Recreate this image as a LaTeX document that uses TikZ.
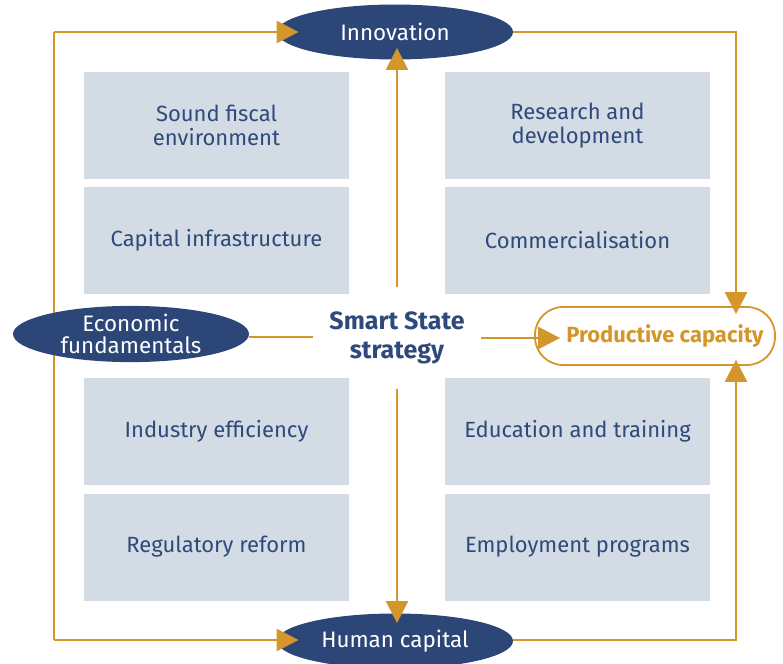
\documentclass[tikz,border=0pt]{standalone}
\usepackage{fontspec}
\setmainfont{Fira Sans}
\usepackage{tikz}
\usetikzlibrary{arrows.meta,positioning,calc,shapes.geometric}
\definecolor{navy}{HTML}{2C4677}
\definecolor{gold}{HTML}{D4952A}
\definecolor{panel}{HTML}{D3DBE4}
\definecolor{ink}{HTML}{2E4A7A}
\tikzset{
  panelbox/.style={fill=panel, minimum width=132.5pt, minimum height=53.5pt, inner sep=2pt,
    align=center, text=ink, font=\fontsize{11}{12}\selectfont},
  driver/.style={ellipse, fill=navy, text=white, inner sep=0pt, minimum width=118pt,
    minimum height=27.5pt, align=center, font=\fontsize{11.2}{11}\selectfont},
  goal/.style={draw=gold, line width=0.9pt, rounded corners=14pt, minimum width=120pt,
    minimum height=29pt, text=gold, font=\bfseries\fontsize{11}{12}\selectfont},
  link/.style={draw=gold, line width=1.3pt},
  flow/.style={link, -{Triangle[length=11pt, width=11pt]}},
}
\begin{document}
\begin{tikzpicture}[x=0.5pt,y=-0.5pt]
  \useasboundingbox (0,0) rectangle (783,664);
  % panels
  \node[panelbox] (fiscal) at (216.5,125.5) {Sound fiscal\\environment};
  \node[panelbox] (infra)  at (216.5,240.5) {Capital infrastructure};
  \node[panelbox] (effic)  at (216.5,431.5) {Industry efficiency};
  \node[panelbox] (reform) at (216.5,547)   {Regulatory reform};
  \node[panelbox] (rnd)    at (577.5,125.5) {Research and\\development};
  \node[panelbox] (comm)   at (577.5,240.5) {Commercialisation};
  \node[panelbox] (edu)    at (577.5,431.5) {Education and training};
  \node[panelbox] (employ) at (577.5,547)   {Employment programs};
  % frame corners
  \coordinate (tl) at (54,32);
  \coordinate (bl) at (54,640);
  \coordinate (tr) at (736,32);
  \coordinate (br) at (736,640);
  % main nodes
  \draw[link] (tl) -- (bl);
  \node[driver] (inno) at (395,32)  {Innovation};
  \node[driver] (hum)  at (395,641) {\raisebox{-1pt}{Human capital}};
  \node[driver] (econ) at (131,334) {Economic\\fundamentals};
  \node[goal]   (prod) at (655,336) {\hspace{10pt}Productive capacity};
  \node[inner xsep=8pt, inner ysep=12pt, text=ink, align=center,
    font=\bfseries\fontsize{12.5}{14.5}\selectfont] (smart) at (397,338) {Smart State\\strategy};
  % frame
  \draw[flow, shorten >=-11pt] (tl) -- (inno.west);
  \draw[flow, shorten >=-11pt] (bl) -- (bl -| hum.west);
  \draw[flow, shorten >=-4pt] (inno.east) -- (tr) -- (tr |- prod.north);
  \draw[flow, shorten >=-3pt] (br -| hum.east) -- (br) -- (br |- prod.south);
  % spokes
  \draw[link] ([yshift=-1.5pt]econ.east) -- ([yshift=-1.5pt]econ.east -| smart.west);
  \draw[flow, shorten >=-6pt] (smart.north) -- (smart.north |- inno.south);
  \draw[flow, shorten >=-5pt] (smart.south) -- (smart.south |- hum.north);
  \draw[flow, shorten >=-13pt] (smart.east) -- (smart.east -| prod.west);
\end{tikzpicture}
\end{document}
